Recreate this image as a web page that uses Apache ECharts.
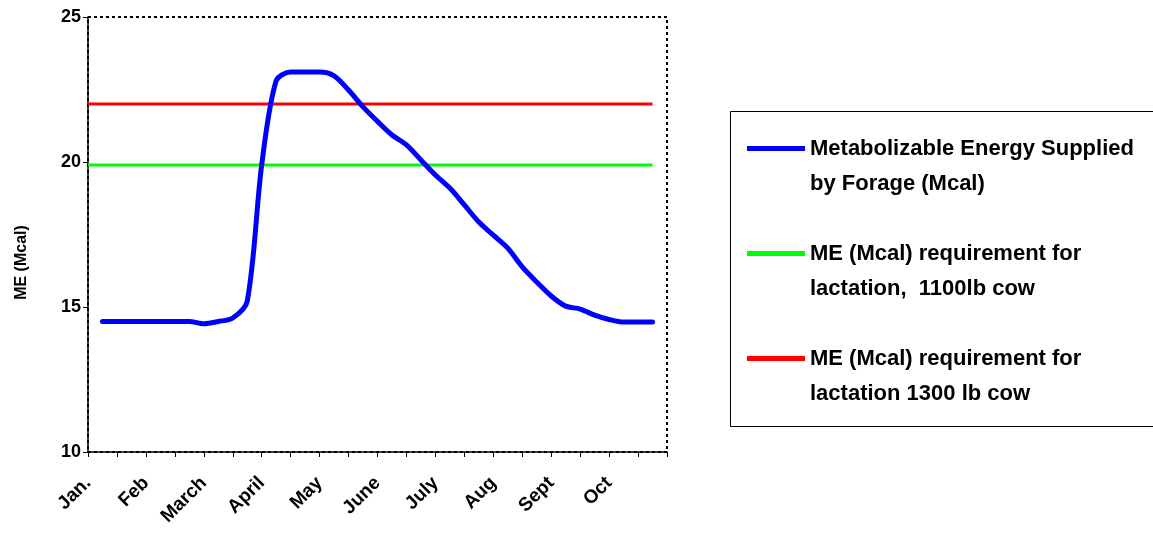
<!DOCTYPE html>
<html>
<head>
<meta charset="utf-8">
<script src="https://cdn.jsdelivr.net/npm/echarts@6/dist/echarts.min.js"></script>
<style>
  html, body { margin: 0; padding: 0; background: #fff; }
  #chart { width: 1153px; height: 535px; }
</style>
</head>
<body>
<div id="chart"></div>
<script>
// x positions in half-month steps (0 = start of Jan.)
var monthLabels = ['Jan.', 'Feb', 'March', 'April', 'May', 'June', 'July', 'Aug', 'Sept', 'Oct'];
var weekPos = [0.5, 1, 1.5, 2, 2.5, 3, 3.5, 4, 4.5, 5, 5.5, 6, 6.5, 7, 7.5, 8, 8.5, 9, 9.5, 10,
  10.5, 11, 11.5, 12, 12.5, 13, 13.5, 14, 14.5, 15, 15.5, 16, 16.5, 17, 17.5, 18, 18.5, 19, 19.5];
// ME supplied by forage (Mcal)
var forageME = [14.5, 14.5, 14.5, 14.5, 14.5, 14.5, 14.5, 14.42, 14.5, 14.62, 15.2, 19.9, 22.8,
  23.1, 23.1, 23.1, 22.97, 22.48, 21.9, 21.4, 20.93, 20.59, 20.07, 19.55, 19.1, 18.52, 17.93,
  17.48, 17.03, 16.38, 15.86, 15.38, 15.03, 14.93, 14.72, 14.57, 14.48, 14.48, 14.48];
// requirement lines
var reqPos = [0, 19.5];
var req1100 = [19.9, 19.9];
var req1300 = [22, 22];

var seriesNames = [
  'Metabolizable Energy Supplied\nby Forage (Mcal)',
  'ME (Mcal) requirement for\nlactation,  1100lb cow',
  'ME (Mcal) requirement for\nlactation 1300 lb cow'
];

function pairs(xs, ys) {
  return xs.map(function (x, i) { return [x, ys[i]]; });
}

var chart = echarts.init(document.getElementById('chart'));
var font = "'Liberation Sans', Arial, sans-serif";

var option = {
  animation: false,
  textStyle: { fontFamily: font, color: '#000' },
  grid: {
    left: 88, right: 486, top: 17, bottom: 83,
    show: true,
    borderColor: '#000',
    borderWidth: 2,
    borderType: [3, 3]
  },
  // legend frame (runs off the right edge like the original)
  graphic: [{
    type: 'rect',
    shape: { x: 730.5, y: 111.5, width: 440, height: 315 },
    style: { fill: 'none', stroke: '#000', lineWidth: 1 },
    z: 0
  }],
  legend: {
    orient: 'vertical',
    left: 747,
    top: 96,
    padding: 0,
    itemGap: 0,
    itemWidth: 58,
    itemHeight: 5,
    icon: 'rect',
    data: seriesNames,
    // leading blank line keeps the icon level with the first text line
    formatter: function (name) { return '\n' + name; },
    textStyle: {
      fontFamily: font,
      fontWeight: 'bold',
      fontSize: 22,
      lineHeight: 35,
      color: '#000'
    }
  },
  xAxis: {
    type: 'value',
    min: 0,
    max: 20,
    interval: 1,
    splitLine: { show: false },
    axisLine: { lineStyle: { color: '#000', width: 1.5 } },
    axisTick: { show: true, length: 5, lineStyle: { color: '#000' } },
    axisLabel: {
      rotate: 45,
      margin: 28,
      fontFamily: font,
      fontWeight: 'bold',
      fontSize: 19,
      color: '#000',
      showMinLabel: true,
      showMaxLabel: true,
      formatter: function (v) {
        return v % 2 === 0 && monthLabels[v / 2] ? monthLabels[v / 2] : '';
      }
    }
  },
  yAxis: {
    type: 'value',
    min: 10,
    max: 25,
    interval: 5,
    name: 'ME (Mcal)',
    nameLocation: 'middle',
    nameGap: 58,
    nameRotate: 90,
    nameTextStyle: {
      fontFamily: font, fontWeight: 'bold', fontSize: 16, color: '#000',
      padding: [0, 56, 0, 0]
    },
    splitLine: { show: false },
    axisLine: { show: true, lineStyle: { color: '#000', width: 1.5 } },
    axisTick: { show: true, length: 5, lineStyle: { color: '#000' } },
    axisLabel: { margin: 7, fontFamily: font, fontWeight: 'bold', fontSize: 18, color: '#000' }
  },
  series: [
    {
      name: seriesNames[0],
      type: 'line',
      data: pairs(weekPos, forageME),
      smooth: 0.3,
      showSymbol: false,
      symbol: 'none',
      color: '#0000ff',
      lineStyle: { width: 5, color: '#0000ff', cap: 'round' },
      z: 3
    },
    {
      name: seriesNames[1],
      type: 'line',
      data: pairs(reqPos, req1100),
      showSymbol: false,
      symbol: 'none',
      color: '#00ff00',
      lineStyle: { width: 3, color: '#00ff00' },
      z: 2
    },
    {
      name: seriesNames[2],
      type: 'line',
      data: pairs(reqPos, req1300),
      showSymbol: false,
      symbol: 'none',
      color: '#ff0000',
      lineStyle: { width: 3, color: '#ff0000' },
      z: 2
    }
  ]
};

chart.setOption(option);
</script>
</body>
</html>
